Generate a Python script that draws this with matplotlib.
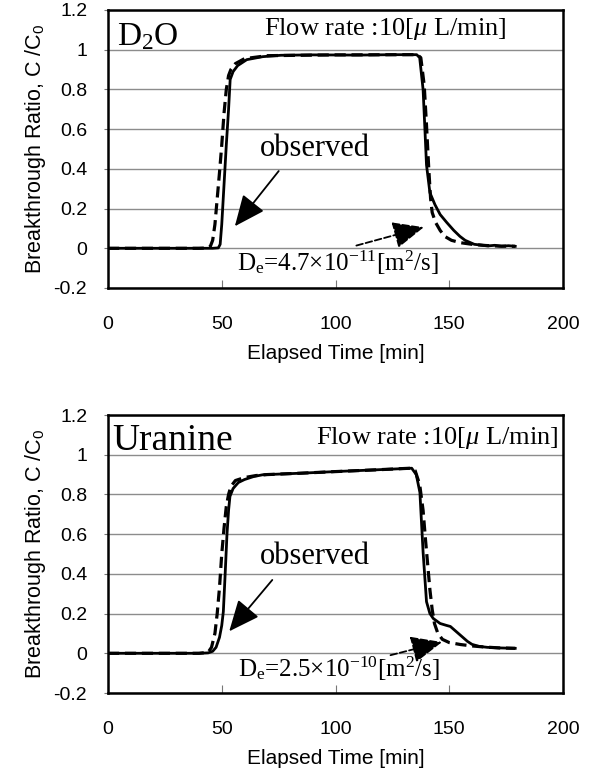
import numpy as np
import matplotlib
matplotlib.use("Agg")
import matplotlib.pyplot as plt
from matplotlib.ticker import FuncFormatter

plt.rcParams['font.family'] = ['Liberation Sans', 'DejaVu Sans']
plt.rcParams['mathtext.fontset'] = 'custom'
plt.rcParams['mathtext.rm'] = 'Liberation Serif'
plt.rcParams['mathtext.it'] = 'Liberation Serif:italic'
plt.rcParams['mathtext.sf'] = 'Liberation Sans'

# ---- D2O : observed (solid) and calculated (dashed)
t_obs_d2o = [0, 20, 40, 46, 48.5, 49.3, 50, 51, 52, 53, 53.7, 55, 57, 61, 68, 76,
             90, 110, 125, 135.7, 137, 138.5, 139.3, 140, 141.5, 143.7, 146, 148.9,
             152, 154.7, 157, 159, 161, 164, 167, 170, 173, 176, 179]
c_obs_d2o = [0, 0, 0, 0, 0.002, 0.02, 0.12, 0.32, 0.52, 0.7, 0.85, 0.89, 0.92, 0.95,
             0.965, 0.972, 0.974, 0.973, 0.975, 0.975, 0.96, 0.8, 0.6, 0.42, 0.28, 0.22,
             0.17, 0.13, 0.09, 0.06, 0.04, 0.03, 0.02, 0.016, 0.012, 0.015, 0.01, 0.013, 0.01]

t_cal_d2o = [0, 40, 44, 45, 46, 47, 48, 49, 50, 51, 52, 53, 54, 56, 60, 70, 100,
             136, 137.5, 139, 140, 141, 141.8, 142.5, 144, 146, 148, 151, 155, 160,
             166, 172, 179]
c_cal_d2o = [0, 0, 0.002, 0.01, 0.04, 0.12, 0.25, 0.38, 0.52, 0.68, 0.8, 0.87, 0.9,
             0.93, 0.955, 0.97, 0.974, 0.975, 0.96, 0.82, 0.62, 0.4, 0.25, 0.18, 0.13,
             0.09, 0.06, 0.04, 0.028, 0.02, 0.014, 0.011, 0.01]

# ---- Uranine
t_obs_ura = [0, 20, 40, 44, 46, 47.5, 49, 50, 50.7, 51.5, 52.3, 53, 53.6, 55, 57.3,
             60, 64, 68, 85, 101.7, 118, 133.5, 135.5, 137.1, 138.5, 140, 141.5, 143,
             146, 148.9, 150.5, 152, 155, 158, 160, 163, 166.7, 172, 179]
c_obs_ura = [0, 0, 0, 0.002, 0.01, 0.03, 0.08, 0.14, 0.21, 0.4, 0.6, 0.72, 0.79, 0.83,
             0.86, 0.875, 0.89, 0.899, 0.907, 0.916, 0.924, 0.932, 0.9, 0.81, 0.51, 0.26,
             0.2, 0.175, 0.15, 0.14, 0.135, 0.12, 0.09, 0.06, 0.045, 0.035, 0.03, 0.027, 0.025]

t_cal_ura = [0, 40, 44, 45.5, 47, 48, 49, 50, 51, 52, 53, 54, 56, 60, 65, 70, 85, 100,
             118, 133, 135, 137, 138.5, 139.5, 140.5, 141.5, 142.5, 143.5, 145, 147,
             150, 155, 160, 165, 172, 179]
c_cal_ura = [0, 0, 0.005, 0.03, 0.1, 0.2, 0.33, 0.5, 0.63, 0.74, 0.8, 0.84, 0.87, 0.885,
             0.895, 0.9, 0.907, 0.915, 0.924, 0.932, 0.92, 0.85, 0.72, 0.58, 0.45, 0.32,
             0.22, 0.15, 0.1, 0.07, 0.054, 0.044, 0.037, 0.032, 0.027, 0.025]

y_ticks = [-0.2, 0, 0.2, 0.4, 0.6, 0.8, 1, 1.2]
x_ticks = [0, 50, 100, 150, 200]

panels = [
  dict(t_obs=t_obs_d2o, c_obs=c_obs_d2o, t_cal=t_cal_d2o, c_cal=c_cal_d2o,
       name="D$_\\mathrm{2}$O", name_xy=(4, 1.065), name_size=24,
       flow_xy=(121.7, 1.105), flow_ha="center",
       obs_xy=(91, 0.5), arr_from=(75.8, 0.40), arr_to=(55, 0.10),
       de="D$_\\mathrm{e}$=4.7×10$^\\mathrm{-11}$[m$^\\mathrm{2}$/s]", de_xy=(101, -0.075),
       darr_from=(108, 0.01), darr_to=(140, 0.11),
       rect=[108/591, 1-288/778, 455/591, 278/778]),
  dict(t_obs=t_obs_ura, c_obs=c_obs_ura, t_cal=t_cal_ura, c_cal=c_cal_ura,
       name="Uranine", name_xy=(2, 1.07), name_size=27,
       flow_xy=(198, 1.085), flow_ha="right",
       obs_xy=(91, 0.485), arr_from=(73, 0.38), arr_to=(52.5, 0.10),
       de="D$_\\mathrm{e}$=2.5×10$^\\mathrm{-10}$[m$^\\mathrm{2}$/s]", de_xy=(101.7, -0.08),
       darr_from=(123, -0.013), darr_to=(148, 0.06),
       rect=[108/591, 1-693/778, 455/591, 278/778]),
]

fig = plt.figure(figsize=(5.91, 7.78), dpi=100)

for p in panels:
  ax = fig.add_axes(p["rect"])
  ax.plot(p["t_cal"], p["c_cal"], color="black", lw=2.3, dashes=(3.5, 1.8))
  ax.plot(p["t_obs"], p["c_obs"], color="black", lw=2.0)
  ax.set_xlim(0, 200)
  ax.set_ylim(-0.2, 1.2)
  ax.set_xticks(x_ticks)
  ax.set_yticks(y_ticks)
  ax.yaxis.set_major_formatter(FuncFormatter(lambda v, pos: "%g" % round(v, 2)))
  ax.grid(axis="y", color="#8c8c8c", lw=1.0)
  ax.set_axisbelow(True)
  ax.tick_params(axis="x", direction="in", length=6, color="#777777", labelsize=14, pad=20)
  ax.tick_params(axis="y", direction="out", length=3, color="#777777", labelsize=14, pad=12)
  for s in ax.spines.values():
    s.set_linewidth(1.8)
    s.set_color("black")
  ax.set_xlabel("Elapsed Time [min]", fontsize=15, labelpad=8)
  ax.set_ylabel("Breakthrough Ratio, C /C$_\\mathsf{0}$", fontsize=15.5, labelpad=4)

  serif = "Liberation Serif"
  ax.text(p["name_xy"][0], p["name_xy"][1], p["name"], family=serif,
          fontsize=p["name_size"], ha="left", va="center")
  ax.text(p["flow_xy"][0], p["flow_xy"][1], "Flow rate :10[$\\mu$ L/min]", family=serif,
          fontsize=19, ha=p["flow_ha"], va="center")
  ax.text(p["obs_xy"][0], p["obs_xy"][1], "observed", family=serif,
          fontsize=22, ha="center", va="center")
  ax.annotate("", xy=p["arr_to"], xytext=p["arr_from"],
              arrowprops=dict(arrowstyle="-|>,head_length=0.8,head_width=0.35",
                              mutation_scale=24, color="black", lw=1.3))
  ax.text(p["de_xy"][0], p["de_xy"][1], p["de"], family=serif,
          fontsize=18, ha="center", va="center")
  ax.annotate("", xy=p["darr_to"], xytext=p["darr_from"],
              arrowprops=dict(arrowstyle="-|>,head_length=0.8,head_width=0.35",
                              mutation_scale=24, color="black", lw=1.3, ls="--"))

fig.savefig("out.png", dpi=100)
